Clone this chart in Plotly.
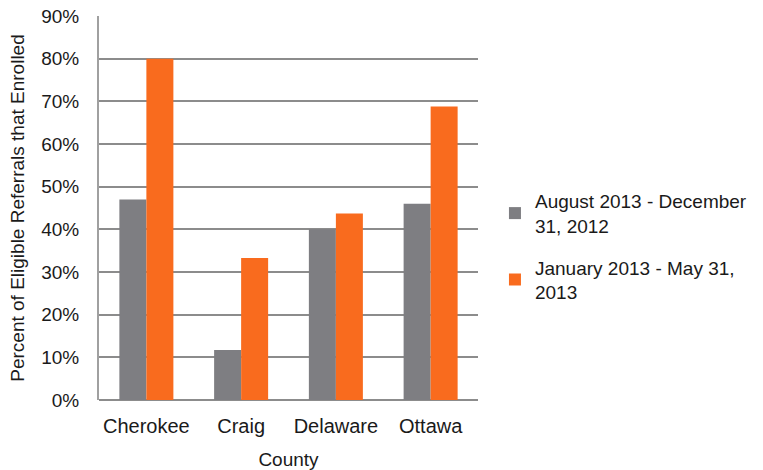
import plotly.graph_objects as go

counties = ["Cherokee", "Craig", "Delaware", "Ottawa"]
series_names = ["August 2013 - December<br>31, 2012", "January 2013 - May 31,<br>2013"]
aug_dec = [0.47, 0.117, 0.40, 0.46]
jan_may = [0.80, 0.333, 0.437, 0.688]
colors = ["#7E7E82", "#F96B1E"]
tick_vals = [0, 0.1, 0.2, 0.3, 0.4, 0.5, 0.6, 0.7, 0.8, 0.9]

FONT = "Liberation Sans, Arial, sans-serif"

fig = go.Figure()
for i, (name, vals, c) in enumerate(zip(series_names, [aug_dec, jan_may], colors)):
    fig.add_trace(go.Bar(x=counties, y=vals, name=name, legendgroup=f"g{i}",
                         marker=dict(color=c, line=dict(width=0))))

fig.update_layout(
    width=763, height=470,
    margin=dict(l=99, r=284, t=16, b=70),
    paper_bgcolor="white", plot_bgcolor="white",
    barmode="group", bargap=0.43, bargroupgap=0,
    font=dict(family=FONT, size=19, color="#1a1a1a"),
    showlegend=True,
    legend=dict(x=1.042, y=0.40, xanchor="left", yanchor="middle",
                font=dict(size=19, family=FONT, color="#1a1a1a"),
                tracegroupgap=14, itemwidth=30, bgcolor="rgba(0,0,0,0)",
                borderwidth=0),
    xaxis=dict(title=dict(text="County", font=dict(size=19), standoff=21),
               showline=False, ticks="", tickfont=dict(size=20), ticklabelstandoff=12,
               automargin=False),
    yaxis=dict(title=dict(text="Percent of Eligible Referrals that Enrolled", font=dict(size=19), standoff=12),
               range=[0, 0.9], tickvals=tick_vals, tickformat=".0%",
               showgrid=True, gridcolor="#8C8C8C", gridwidth=2,
               showline=True, linecolor="#A0A0A0", linewidth=2,
               zeroline=True, zerolinecolor="#8C8C8C", zerolinewidth=2,
               ticks="", ticklabelstandoff=14, tickfont=dict(size=19), automargin=False),
)

fig.write_html("out.html", config={"displayModeBar": False},
               post_script="document.body.style.margin='0';")
